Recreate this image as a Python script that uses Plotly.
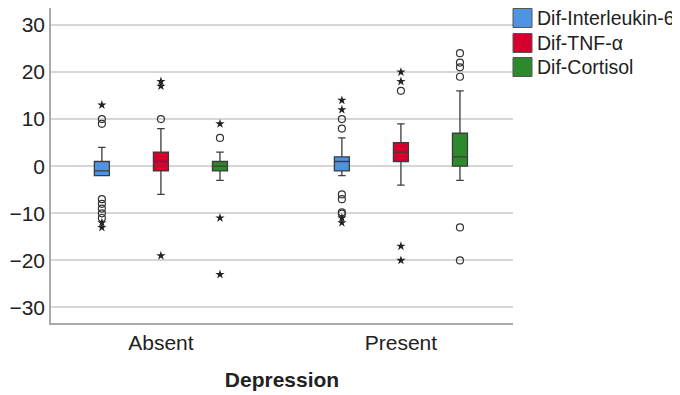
import plotly.graph_objects as go

categories = ["Absent", "Present"]
series_names = ["Dif-Interleukin-6", "Dif-TNF-α", "Dif-Cortisol"]
series_colors = ["#4f93e3", "#d6002f", "#2c8a2c"]
series_offsets = [-0.246, 0.0, 0.246]

# IL-6
il6_q1 = [-2, -1]
il6_med = [-1, 1]
il6_q3 = [1, 2]
il6_lo = [-2, -2]
il6_hi = [4, 6]
il6_mild = [[10, 9, -7, -8, -9, -10, -11], [10, 8, -6, -7, -9.8, -10.1]]
il6_extreme = [[13, -12, -13], [14, 12, -11, -12]]

# TNF-alpha
tnf_q1 = [-1, 1]
tnf_med = [1, 3]
tnf_q3 = [3, 5]
tnf_lo = [-6, -4]
tnf_hi = [8, 9]
tnf_mild = [[10], [16]]
tnf_extreme = [[18, 17, -19], [20, 18, -17, -20]]

# Cortisol
cort_q1 = [-1, 0]
cort_med = [0, 2]
cort_q3 = [1, 7]
cort_lo = [-3, -3]
cort_hi = [3, 16]
cort_mild = [[6], [24, 22, 21, 19, -13, -20]]
cort_extreme = [[9, -11, -23], []]

y_ticks = [-30, -20, -10, 0, 10, 20, 30]

stats = [
    (il6_q1, il6_med, il6_q3, il6_lo, il6_hi, il6_mild, il6_extreme),
    (tnf_q1, tnf_med, tnf_q3, tnf_lo, tnf_hi, tnf_mild, tnf_extreme),
    (cort_q1, cort_med, cort_q3, cort_lo, cort_hi, cort_mild, cort_extreme),
]

FONT = "Liberation Sans, Arial, sans-serif"
fig = go.Figure()

for name, color, off, (q1, med, q3, lo, hi, mild, ext) in zip(series_names, series_colors, series_offsets, stats):
    xs = [i + off for i in range(len(categories))]
    fig.add_trace(go.Box(
        x=xs, q1=q1, median=med, q3=q3, lowerfence=lo, upperfence=hi,
        width=0.0625, whiskerwidth=0.5, name=name,
        fillcolor=color, line=dict(color="#3c3c3c", width=1.3),
        showlegend=False, hoverinfo="skip",
    ))
    mx, my, ex, ey = [], [], [], []
    for i in range(len(categories)):
        mx += [i + off] * len(mild[i]); my += mild[i]
        ex += [i + off] * len(ext[i]); ey += ext[i]
    fig.add_trace(go.Scatter(
        x=mx, y=my, mode="markers", showlegend=False,
        marker=dict(symbol="circle-open", size=7, color="#333333", line=dict(width=1.2)),
    ))
    fig.add_trace(go.Scatter(
        x=ex, y=ey, mode="markers", showlegend=False,
        marker=dict(symbol="star", size=7, color="#222222"),
    ))

# Legend drawn as swatches + labels to the right of the plot area
PLOT_W, PLOT_H = 462, 315
sw_x0, sw_x1 = 1.0, 1.0 + 19 / PLOT_W
txt_x = 1.0 + 22 / PLOT_W
row_px = [10, 35, 59]
half = 9.5 / PLOT_H
for name, color, rp in zip(series_names, series_colors, row_px):
    yc = 1 - rp / PLOT_H
    fig.add_shape(type="rect", xref="paper", yref="paper",
                  x0=sw_x0, x1=sw_x1, y0=yc - half, y1=yc + half,
                  fillcolor=color, line=dict(color="#555555", width=1))
    fig.add_annotation(xref="paper", yref="paper", x=txt_x, y=yc,
                       xanchor="left", yanchor="middle", showarrow=False,
                       text=name, font=dict(size=19.5, family=FONT, color="#222222"))

fig.update_layout(
    width=680, height=395,
    margin=dict(l=43, r=175, t=0, b=80, autoexpand=False),
    paper_bgcolor="white", plot_bgcolor="white",
    font=dict(family=FONT, color="#222222"),
    showlegend=False,
)
fig.update_xaxes(
    range=[-0.458, 1.467], tickmode="array", tickvals=[0, 1], ticktext=categories,
    showgrid=False, zeroline=False, showline=True, linecolor="#aaaaaa", linewidth=1.5,
    tickfont=dict(size=21), ticks="", automargin=False,
    title=dict(text="<b>Depression</b>", font=dict(size=21), standoff=19),
)
fig.update_yaxes(
    range=[-33.3, 33.6], tickmode="array", tickvals=y_ticks,
    showgrid=True, gridcolor="#d6d6d6", gridwidth=1.5, zeroline=False,
    showline=True, linecolor="#aaaaaa", linewidth=1.5,
    tickfont=dict(size=21), ticks="", automargin=False,
)

fig.write_html("out.html")
